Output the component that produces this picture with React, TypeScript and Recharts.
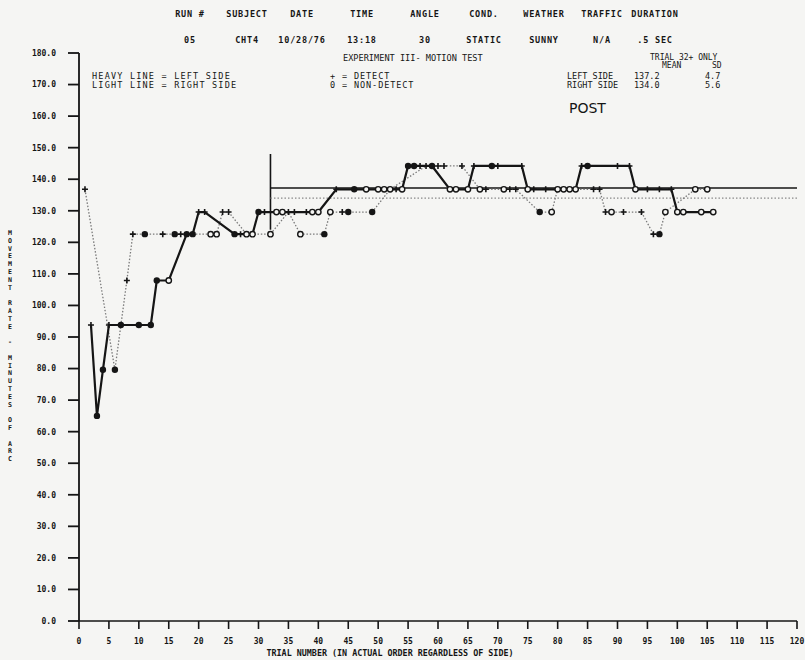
import React from 'react';
import { LineChart, Line, XAxis, YAxis, ReferenceLine } from 'recharts';

// ── Data ──────────────────────────────────────────────────────────────────────

const Y_TICKS = [0, 10, 20, 30, 40, 50, 60, 70, 80, 90, 100, 110, 120, 130, 140, 150, 160, 170, 180];
const X_TICKS = [0, 5, 10, 15, 20, 25, 30, 35, 40, 45, 50, 55, 60, 65, 70, 75, 80, 85, 90, 95, 100, 105, 110, 115, 120];

// heavy line = left side
const LEFT_TRIAL = [
  2, 3, 4, 5, 7, 10, 12, 13, 15, 18, 19, 20, 21, 26, 27, 29, 30, 31, 33, 34,
  36, 38, 39, 40, 43, 46, 48, 50, 51, 53, 54, 55, 56, 57, 59, 62, 63, 65, 66, 69,
  70, 74, 75, 76, 78, 81, 82, 83, 84, 85, 90, 92, 93, 95, 97, 99, 100, 101, 104, 106,
];
const LEFT_RATE = [
  93.8, 65.0, 79.6, 93.8, 93.8, 93.8, 93.8, 107.9, 107.9, 122.6,
  122.6, 129.6, 129.6, 122.6, 122.6, 122.6, 129.6, 129.6, 129.6, 129.6,
  129.6, 129.6, 129.6, 129.6, 136.8, 136.8, 136.8, 136.8, 136.8, 136.8,
  136.8, 144.2, 144.2, 144.2, 144.2, 136.8, 136.8, 136.8, 144.2, 144.2,
  144.2, 144.2, 136.8, 136.8, 136.8, 136.8, 136.8, 136.8, 144.2, 144.2,
  144.2, 144.2, 136.8, 136.8, 136.8, 136.8, 129.6, 129.6, 129.6, 129.6,
];
// '+' detect, 'o' non-detect, '*' heavy print
const LEFT_MARK = [
  '+', '*', '*', '+', '*', '*', '*', '*', 'o', '*',
  '*', '+', '+', '*', '+', 'o', '*', '+', 'o', 'o',
  '+', '+', 'o', 'o', '+', '*', 'o', 'o', 'o', '+',
  'o', '*', '*', '+', '*', 'o', 'o', 'o', '+', '*',
  '+', '+', 'o', '+', '+', 'o', 'o', 'o', '+', '*',
  '+', '+', 'o', '+', '+', '+', 'o', 'o', 'o', 'o',
];

// light line = right side
const RIGHT_TRIAL = [
  1, 6, 8, 9, 11, 14, 16, 17, 22, 23, 24, 25, 28, 32, 35, 37, 41, 42, 44, 45,
  49, 52, 58, 60, 61, 64, 67, 68, 71, 72, 73, 77, 79, 80, 86, 87, 88, 89, 91, 94,
  96, 97, 98, 103, 105,
];
const RIGHT_RATE = [
  136.8, 79.6, 107.9, 122.6, 122.6, 122.6, 122.6, 122.6, 122.6, 122.6,
  129.6, 129.6, 122.6, 122.6, 129.6, 122.6, 122.6, 129.6, 129.6, 129.6,
  129.6, 136.8, 144.2, 144.2, 144.2, 144.2, 136.8, 136.8, 136.8, 136.8,
  136.8, 129.6, 129.6, 136.8, 136.8, 136.8, 129.6, 129.6, 129.6, 129.6,
  122.6, 122.6, 129.6, 136.8, 136.8,
];
const RIGHT_MARK = [
  '+', '*', '+', '+', '*', '+', '*', '+', 'o', 'o',
  '+', '+', 'o', 'o', '+', 'o', '*', 'o', '+', '*',
  '*', 'o', '+', '+', '+', '+', 'o', '+', 'o', '+',
  '+', '*', 'o', 'o', '+', '+', '+', 'o', '+', '+',
  '+', '*', 'o', 'o', 'o',
];

const MEAN_FROM = 32;
const LEFT_MEAN = 137.2;
const RIGHT_MEAN = 134.0;

const HEADER_LABELS = ['RUN #', 'SUBJECT', 'DATE', 'TIME', 'ANGLE', 'COND.', 'WEATHER', 'TRAFFIC', 'DURATION'];
const HEADER_VALUES = ['05', 'CHT4', '10/28/76', '13:18', '30', 'STATIC', 'SUNNY', 'N/A', '.5 SEC'];
const Y_TITLE = 'MOVEMENT RATE - MINUTES OF ARC';

// ── Styles ────────────────────────────────────────────────────────────────────

const PAPER = '#f5f5f3';
const INK = '#151515';
const MONO = '"DejaVu Sans Mono", "Liberation Mono", monospace';
const HEADER_X = [190, 247, 302, 362, 425, 484, 544, 602, 655];

const TICK_STYLE = { fontSize: 8, fontFamily: MONO, fontWeight: 700, fill: INK };

const leftData = LEFT_TRIAL.map((trial, i) => ({ trial, rate: LEFT_RATE[i], mark: LEFT_MARK[i] }));
const rightData = RIGHT_TRIAL.map((trial, i) => ({ trial, rate: RIGHT_RATE[i], mark: RIGHT_MARK[i] }));

function Marker(props: any) {
  const { cx, cy, payload, index } = props;
  if (cx == null || cy == null) return <g key={index} />;
  if (payload.mark === '+') {
    return (
      <path
        key={index}
        d={`M${cx - 3},${cy}h6M${cx},${cy - 3}v6`}
        stroke={INK}
        strokeWidth={1.6}
      />
    );
  }
  if (payload.mark === '*') {
    return <circle key={index} cx={cx} cy={cy} r={3.2} fill={INK} />;
  }
  return <circle key={index} cx={cx} cy={cy} r={2.7} fill={PAPER} stroke={INK} strokeWidth={1.4} />;
}

const txt = (x: number, y: number, extra: React.CSSProperties = {}): React.CSSProperties => ({
  position: 'absolute',
  left: x,
  top: y,
  fontFamily: MONO,
  fontSize: 8.5,
  color: INK,
  whiteSpace: 'pre',
  lineHeight: 1,
  ...extra,
});

export default function App() {
  return (
    <div
      style={{
        position: 'absolute',
        left: 0,
        top: 0,
        width: 805,
        height: 660,
        background: PAPER,
        overflow: 'hidden',
      }}
    >
      {/* header rows */}
      {HEADER_LABELS.map((h, i) => (
        <div
          key={h}
          style={txt(HEADER_X[i], 10, { transform: 'translateX(-50%)', fontWeight: 700, fontSize: 8.5, letterSpacing: 0.8 })}
        >
          {h}
        </div>
      ))}
      {HEADER_VALUES.map((h, i) => (
        <div
          key={h}
          style={txt(HEADER_X[i], 36, { transform: 'translateX(-50%)', fontWeight: 700, fontSize: 8.5, letterSpacing: 0.8 })}
        >
          {h}
        </div>
      ))}

      <LineChart
        width={805}
        height={660}
        margin={{ top: 53, right: 8, left: 19, bottom: 9 }}
      >
        <XAxis
          dataKey="trial"
          type="number"
          domain={[0, 120]}
          ticks={X_TICKS}
          interval={0}
          height={30}
          tick={TICK_STYLE}
          tickSize={8}
          tickMargin={9}
          axisLine={{ stroke: INK, strokeWidth: 1.6 }}
          tickLine={{ stroke: INK, strokeWidth: 1.6 }}
          allowDataOverflow
        />
        <XAxis
          xAxisId="top"
          orientation="top"
          type="number"
          domain={[0, 120]}
          height={0}
          tick={false}
          tickLine={false}
          axisLine={{ stroke: INK, strokeWidth: 1.4 }}
        />
        <YAxis
          type="number"
          domain={[0, 180]}
          ticks={Y_TICKS}
          interval={0}
          width={60}
          tick={TICK_STYLE}
          tickFormatter={(v: number) => v.toFixed(1)}
          tickSize={11}
          tickMargin={12}
          axisLine={{ stroke: INK, strokeWidth: 1.8 }}
          tickLine={{ stroke: INK, strokeWidth: 1.8 }}
          allowDataOverflow
        />
        <YAxis
          yAxisId="right"
          orientation="right"
          type="number"
          domain={[0, 180]}
          width={0}
          tick={false}
          tickLine={false}
          axisLine={{ stroke: INK, strokeWidth: 1.4 }}
        />

        {/* means over trial 32+ */}
        <ReferenceLine
          segment={[{ x: MEAN_FROM, y: 124 }, { x: MEAN_FROM, y: 148 }]}
          stroke={INK}
          strokeWidth={1.6}
        />
        <ReferenceLine
          segment={[{ x: MEAN_FROM, y: LEFT_MEAN }, { x: 120, y: LEFT_MEAN }]}
          stroke={INK}
          strokeWidth={1.5}
        />
        <ReferenceLine
          segment={[{ x: MEAN_FROM, y: RIGHT_MEAN }, { x: 120, y: RIGHT_MEAN }]}
          stroke="#888"
          strokeWidth={1.2}
          strokeDasharray="1.5 2"
        />

        <Line
          data={rightData}
          dataKey="rate"
          type="linear"
          stroke="#7a7a7a"
          strokeWidth={1.3}
          strokeDasharray="1.5 1.8"
          dot={(p: any) => <Marker {...p} />}
          activeDot={false}
          isAnimationActive={false}
        />
        <Line
          data={leftData}
          dataKey="rate"
          type="linear"
          stroke={INK}
          strokeWidth={2.2}
          dot={(p: any) => <Marker {...p} />}
          activeDot={false}
          isAnimationActive={false}
        />
      </LineChart>

      {/* in-plot annotations */}
      <div style={txt(343, 54, { fontSize: 8.6 })}>EXPERIMENT III- MOTION TEST</div>
      <div style={txt(92, 72, { fontSize: 8.5, letterSpacing: 1.2 })}>{'HEAVY LINE = LEFT SIDE\nLIGHT LINE = RIGHT SIDE'}</div>
      <div style={txt(330, 72, { fontSize: 8.5, letterSpacing: 0.9 })}>{'+ = DETECT\n0 = NON-DETECT'}</div>
      <div style={txt(650, 54, { fontSize: 8 })}>TRIAL 32+ ONLY</div>
      <div style={txt(662, 62, { fontSize: 8 })}>MEAN</div>
      <div style={txt(712, 62, { fontSize: 8 })}>SD</div>
      <div style={txt(567, 72, { fontSize: 8.5 })}>{'LEFT SIDE \nRIGHT SIDE'}</div>
      <div style={txt(634, 72, { fontSize: 8.5 })}>{'137.2\n134.0'}</div>
      <div style={txt(705, 72, { fontSize: 8.5 })}>{'4.7\n5.6'}</div>
      <div style={txt(569, 101, { fontFamily: '"DejaVu Sans", sans-serif', fontSize: 14 })}>POST</div>

      {/* axis titles: stacked upright letters */}
      <div style={txt(5, 230, { display: 'flex', flexDirection: 'column', alignItems: 'center', width: 10 })}>
        {Y_TITLE.split('').map((ch, i) => (
          <span
            key={i}
            style={{ display: 'block', height: 7.8, lineHeight: '7.8px', fontSize: 6.6, fontWeight: 700 }}
          >
            {ch === ' ' ? '\u00a0' : ch}
          </span>
        ))}
      </div>
      <div style={txt(390, 649, { transform: 'translateX(-50%)', fontSize: 8.4, fontWeight: 700 })}>
        TRIAL NUMBER (IN ACTUAL ORDER REGARDLESS OF SIDE)
      </div>
    </div>
  );
}
